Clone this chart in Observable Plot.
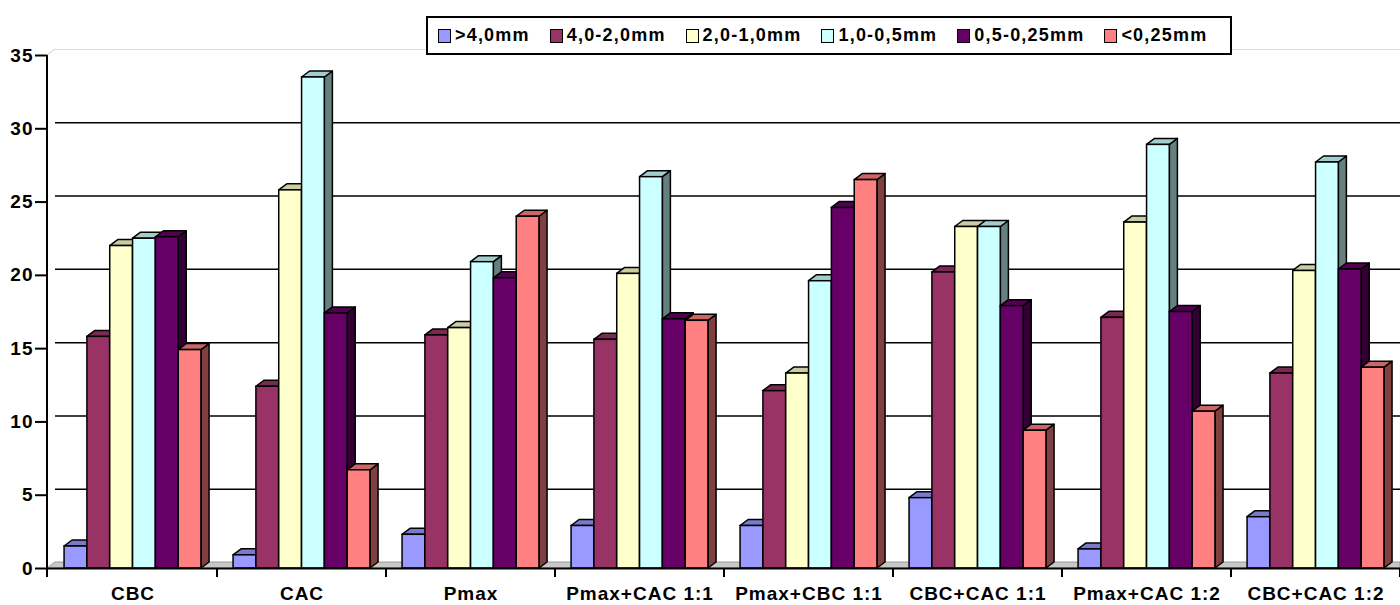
<!DOCTYPE html>
<html><head><meta charset="utf-8">
<script src="https://cdn.jsdelivr.net/npm/d3@7"></script>
<script src="https://cdn.jsdelivr.net/npm/@observablehq/plot@0.6"></script>
<style>
body{margin:0;background:#fff;font-family:"Liberation Sans",Arial,sans-serif;}
#wrap{position:relative;width:1400px;height:605px;overflow:hidden;background:#fff}
#legend{position:absolute;left:426px;top:16px;width:802px;height:35px;border:2px solid #000;background:#fff;display:flex;align-items:center;font-weight:bold;font-size:18px;letter-spacing:1.2px;}
.item{display:flex;align-items:center;margin-left:10px;white-space:nowrap}
.sw{width:11px;height:12px;border:1.5px solid #000;margin-right:4px}
svg [aria-label="y-axis tick"]{stroke-width:2px}
</style></head><body><div id="wrap"><div id="chart"></div><div id="legend"></div></div>
<script>
const categories = ["CBC","CAC","Pmax","Pmax+CAC 1:1","Pmax+CBC 1:1","CBC+CAC 1:1","Pmax+CAC 1:2","CBC+CAC 1:2"];
const series = [">4,0mm","4,0-2,0mm","2,0-1,0mm","1,0-0,5mm","0,5-0,25mm","<0,25mm"];
const colors = ["#9999FF","#993366","#FFFFCC","#CCFFFF","#660066","#FF8080"];
const gt4 = [1.5, 0.9, 2.3, 2.9, 2.9, 4.8, 1.3, 3.5];
const r4to2 = [15.8, 12.4, 15.9, 15.6, 12.1, 20.2, 17.1, 13.3];
const r2to1 = [22.0, 25.8, 16.4, 20.1, 13.3, 23.3, 23.6, 20.3];
const r1to05 = [22.5, 33.5, 20.9, 26.7, 19.6, 23.3, 28.9, 27.7];
const r05to025 = [22.6, 17.4, 19.8, 17.0, 24.6, 17.9, 17.5, 20.4];
const lt025 = [14.9, 6.7, 24.0, 16.9, 26.5, 9.4, 10.7, 13.7];
const yTicks = [0, 5, 10, 15, 20, 25, 30, 35];

const values = [gt4, r4to2, r2to1, r1to05, r05to025, lt025];
const rows = [];
series.forEach((s, i) => categories.forEach((c, k) => rows.push({cat: c, series: s, value: values[i][k]})));

const W = 1400, H = 605, ML = 47, MR = 0, MT = 55, MB = 37;
const DX = 8, DY = 6;
const band = (W - ML - MR) / categories.length;
const bw = band * 0.135;
const off = (band - 6 * bw) / 2;

function shade(c, f) {
  const k = d3.rgb(c);
  return d3.rgb(k.r * f, k.g * f, k.b * f).formatHex();
}

function bar3d(i) {
  return (index, scales) => {
    const {x, y} = scales;
    const g = d3.create("svg:g");
    const y0 = y(0);
    categories.forEach((c, k) => {
      const v = values[i][k];
      const xl = x(c) + off + i * bw, xr = xl + bw;
      const yv = y(v);
      g.append("polygon")
        .attr("points", [[xr, yv], [xr + DX, yv - DY], [xr + DX, y0 - DY], [xr, y0]].map(p => p.join(",")).join(" "))
        .attr("fill", shade(colors[i], 0.5)).attr("stroke", "#000").attr("stroke-width", 1.5).attr("stroke-linejoin", "round");
      g.append("polygon")
        .attr("points", [[xl, yv], [xl + DX, yv - DY], [xr + DX, yv - DY], [xr, yv]].map(p => p.join(",")).join(" "))
        .attr("fill", shade(colors[i], 0.8)).attr("stroke", "#000").attr("stroke-width", 1.5).attr("stroke-linejoin", "round");
    });
    return g.node();
  };
}

function floorMark(index, scales) {
  const {x, y} = scales;
  const g = d3.create("svg:g");
  const y0 = y(0), yt = y(35);
  const xs = x.range()[0], xe = x.range()[1];
  g.append("polygon")
    .attr("points", [[xs, y0], [xs + DX, y0 - DY], [xe, y0 - DY], [xe, y0]].map(p => p.join(",")).join(" "))
    .attr("fill", "#c8c8c8").attr("stroke", "#999").attr("stroke-width", 1);
  g.append("line").attr("x1", xs).attr("y1", yt).attr("x2", xs + DX).attr("y2", yt - DY)
    .attr("stroke", "#ccc").attr("stroke-width", 1);
  return g.node();
}

function axisMark(index, scales) {
  const {x, y} = scales;
  const g = d3.create("svg:g").attr("stroke", "#000").attr("stroke-width", 2);
  const y0 = y(0), yt = y(35);
  const xs = x.range()[0];
  g.append("line").attr("x1", xs).attr("x2", xs).attr("y1", yt).attr("y2", y0 + 9);
  categories.forEach(c => {
    const xv = x(c) + x.bandwidth();
    g.append("line").attr("x1", xv).attr("x2", xv).attr("y1", y0).attr("y2", y0 + 9);
  });
  return g.node();
}

const marks = [
  floorMark,
  Plot.ruleY(yTicks.filter(t => t > 0 && t < 35), {dy: -DY, insetLeft: DX, stroke: "#000", strokeWidth: 1.5}),
  Plot.ruleY([35], {dy: -DY, insetLeft: DX, stroke: "#ddd", strokeWidth: 1})
];
series.forEach((s, i) => {
  marks.push(bar3d(i));
  marks.push(Plot.barY(rows.filter(r => r.series === s), {
    x: "cat", y: "value", fill: colors[i], stroke: "#000", strokeWidth: 1.5,
    insetLeft: off + i * bw, insetRight: band - off - (i + 1) * bw
  }));
});
marks.push(Plot.ruleY([0], {stroke: "#000", strokeWidth: 2}));
marks.push(axisMark);

const chart = Plot.plot({
  width: W, height: H,
  marginLeft: ML, marginRight: MR, marginTop: MT, marginBottom: MB,
  x: {domain: categories, padding: 0, label: null, tickSize: 0, tickPadding: 18},
  y: {domain: [0, 35], ticks: yTicks, label: null, tickSize: 12, tickPadding: 2},
  style: {fontFamily: "Liberation Sans, Arial, sans-serif", fontSize: "19px", fontWeight: "bold", letterSpacing: "1px", color: "#000", background: "#fff", overflow: "visible"},
  marks
});
document.getElementById("chart").appendChild(chart);

const leg = document.getElementById("legend");
series.forEach((s, i) => {
  const it = document.createElement("div");
  it.className = "item";
  if (i > 0) it.style.marginLeft = "20px";
  const sw = document.createElement("div");
  sw.className = "sw";
  sw.style.background = colors[i];
  const t = document.createElement("span");
  t.textContent = s;
  it.appendChild(sw); it.appendChild(t);
  leg.appendChild(it);
});
</script></body></html>
